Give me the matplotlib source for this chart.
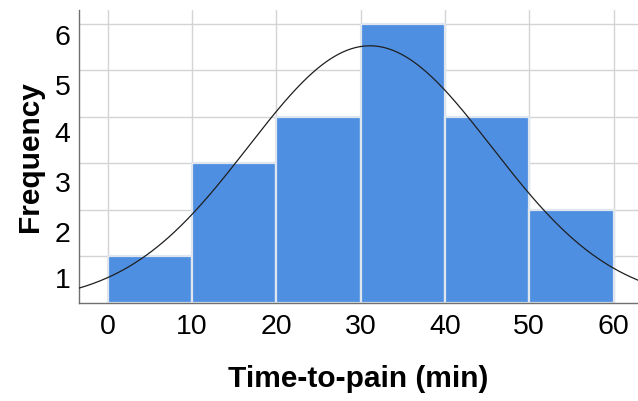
import matplotlib
matplotlib.use("Agg")
import matplotlib.pyplot as plt
import numpy as np

plt.rcParams.update({
    "font.family": ["Liberation Sans", "DejaVu Sans"],
    "font.size": 20.5,
})

# histogram data
bin_edges = [0, 10, 20, 30, 40, 50, 60]
counts = [1, 3, 4, 6, 4, 2]
# fitted normal curve parameters
curve_mean = 31.1
curve_sd = 14.45
n_total = sum(counts)
bin_width = 10

x_ticks = [0, 10, 20, 30, 40, 50, 60]
y_tick_labels = ['1', '2', '3', '4', '5', '6']

fig = plt.figure(figsize=(6.38, 4.01), dpi=100)
ax = fig.add_axes([79 / 638, 98 / 401, 559 / 638, 293 / 401])

ax.bar(bin_edges[:-1], counts, width=bin_width, align='edge',
       color='#4f8fe2', edgecolor='#dfe6ee', linewidth=1.6, zorder=2)

xs = np.linspace(-3.4, 63, 400)
ys = n_total * bin_width / (curve_sd * np.sqrt(2 * np.pi)) * \
    np.exp(-0.5 * ((xs - curve_mean) / curve_sd) ** 2)
ax.plot(xs, ys, color='#1f1f1f', linewidth=0.9, zorder=3)

ax.set_xlim(-3.4, 62.9)
ax.set_ylim(0, 6.29)

# grid on integer positions
ax.set_xticks(x_ticks)
ax.set_yticks(range(1, 7))
ax.set_yticklabels([])
ax.grid(True, color='#d4d4d4', linewidth=1.0, zorder=0)
ax.set_axisbelow(True)
ax.tick_params(axis='both', which='major', length=0, pad=8)

# y labels sit a bit below the gridlines in the reference
ax.set_yticks([0.54, 1.52, 2.6, 3.67, 4.68, 5.75], minor=True)
ax.set_yticklabels(y_tick_labels, minor=True)
ax.tick_params(axis='y', which='minor', length=0, pad=6)

for s in ['top', 'right']:
    ax.spines[s].set_visible(False)
for s in ['left', 'bottom']:
    ax.spines[s].set_color('#707070')
    ax.spines[s].set_linewidth(1.0)

ax.set_xlabel('Time-to-pain (min)', fontsize=21.5, fontweight='bold', labelpad=18)
ax.set_ylabel('Frequency', fontsize=21.5, fontweight='bold', labelpad=8)

fig.savefig('out.png', dpi=100)
